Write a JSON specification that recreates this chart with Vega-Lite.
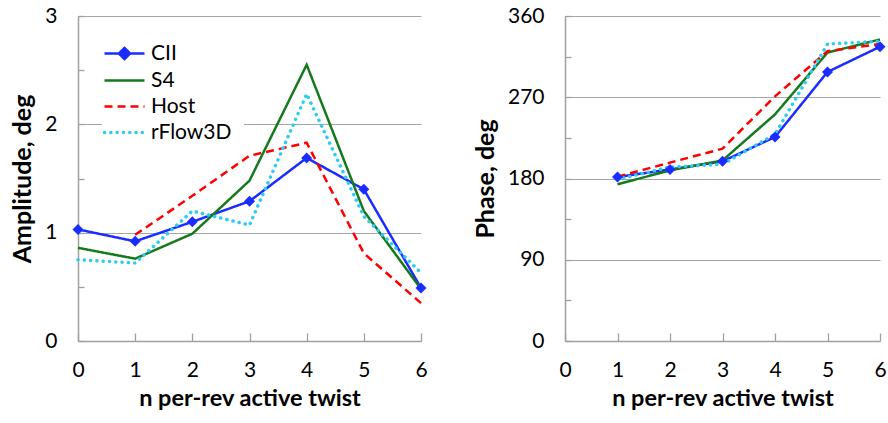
{
  "$schema": "https://vega.github.io/schema/vega-lite/v6.json",
  "background": "white",
  "padding": {"left": 10, "top": 5, "right": 0, "bottom": 0},
  "datasets": {
    "amp": [
      {"series": "CII", "n": 0, "value": 1.03},
      {"series": "CII", "n": 1, "value": 0.92},
      {"series": "CII", "n": 2, "value": 1.10},
      {"series": "CII", "n": 3, "value": 1.29},
      {"series": "CII", "n": 4, "value": 1.69},
      {"series": "CII", "n": 5, "value": 1.40},
      {"series": "CII", "n": 6, "value": 0.49},
      {"series": "S4", "n": 0, "value": 0.86},
      {"series": "S4", "n": 1, "value": 0.76},
      {"series": "S4", "n": 2, "value": 0.99},
      {"series": "S4", "n": 3, "value": 1.48},
      {"series": "S4", "n": 4, "value": 2.55},
      {"series": "S4", "n": 5, "value": 1.20},
      {"series": "S4", "n": 6, "value": 0.48},
      {"series": "Host", "n": 1, "value": 0.98},
      {"series": "Host", "n": 2, "value": 1.34},
      {"series": "Host", "n": 3, "value": 1.71},
      {"series": "Host", "n": 4, "value": 1.83},
      {"series": "Host", "n": 5, "value": 0.81},
      {"series": "Host", "n": 6, "value": 0.35},
      {"series": "rFlow3D", "n": 0, "value": 0.75},
      {"series": "rFlow3D", "n": 1, "value": 0.72},
      {"series": "rFlow3D", "n": 2, "value": 1.20},
      {"series": "rFlow3D", "n": 3, "value": 1.07},
      {"series": "rFlow3D", "n": 4, "value": 2.28},
      {"series": "rFlow3D", "n": 5, "value": 1.15},
      {"series": "rFlow3D", "n": 6, "value": 0.63}
    ],
    "phase": [
      {"series": "CII", "n": 1, "value": 181.7},
      {"series": "CII", "n": 2, "value": 190},
      {"series": "CII", "n": 3, "value": 199},
      {"series": "CII", "n": 4, "value": 226},
      {"series": "CII", "n": 5, "value": 298},
      {"series": "CII", "n": 6, "value": 326},
      {"series": "S4", "n": 1, "value": 173.6},
      {"series": "S4", "n": 2, "value": 189},
      {"series": "S4", "n": 3, "value": 200},
      {"series": "S4", "n": 4, "value": 251},
      {"series": "S4", "n": 5, "value": 319.5},
      {"series": "S4", "n": 6, "value": 334},
      {"series": "Host", "n": 1, "value": 182},
      {"series": "Host", "n": 2, "value": 197.6},
      {"series": "Host", "n": 3, "value": 213},
      {"series": "Host", "n": 4, "value": 271},
      {"series": "Host", "n": 5, "value": 321},
      {"series": "Host", "n": 6, "value": 329},
      {"series": "rFlow3D", "n": 1, "value": 179},
      {"series": "rFlow3D", "n": 2, "value": 192.7},
      {"series": "rFlow3D", "n": 3, "value": 195.7},
      {"series": "rFlow3D", "n": 4, "value": 229},
      {"series": "rFlow3D", "n": 5, "value": 329},
      {"series": "rFlow3D", "n": 6, "value": 332}
    ]
  },
  "config": {
    "view": {"stroke": null},
    "font": "Lato",
    "axis": {
      "labelFont": "Lato",
      "labelFontSize": 21,
      "labelColor": "black",
      "titleFont": "Lato",
      "titleFontSize": 24,
      "titleFontWeight": "bold",
      "titleColor": "black",
      "domainColor": "#a0a0a0",
      "domainWidth": 1.5,
      "gridColor": "#a6a6a6",
      "gridWidth": 1.2,
      "tickColor": "#a0a0a0",
      "tickWidth": 1.3
    }
  },
  "spacing": 45,
  "hconcat": [
    {
      "width": 343,
      "height": 325,
      "data": {"name": "amp"},
      "layer": [
        {
          "transform": [{"filter": "datum.series !== 'rFlow3D'"}],
          "mark": {"type": "line", "strokeWidth": 2.5},
          "encoding": {
            "x": {"field": "n", "type": "quantitative"},
            "y": {"field": "value", "type": "quantitative"}
          }
        },
        {
          "transform": [{"filter": "datum.series === 'rFlow3D'"}],
          "mark": {"type": "line", "strokeWidth": 3.5, "strokeCap": "round"},
          "encoding": {
            "x": {"field": "n", "type": "quantitative"},
            "y": {"field": "value", "type": "quantitative"}
          }
        },
        {
          "transform": [{"filter": "datum.series === 'CII'"}],
          "mark": {"type": "point", "shape": "diamond", "filled": true, "size": 120, "opacity": 1},
          "encoding": {
            "x": {"field": "n", "type": "quantitative"},
            "y": {"field": "value", "type": "quantitative"}
          }
        }
      ],
      "encoding": {
        "x": {
          "field": "n", "type": "quantitative",
          "title": "n per-rev active twist",
          "scale": {"domain": [0, 6], "nice": false, "zero": false},
          "axis": {"values": [0, 1, 2, 3, 4, 5, 6], "tickSize": -8, "labelPadding": 26, "titlePadding": 6, "titleFontSize": 23.5, "grid": false, "labelFlush": false}
        },
        "y": {
          "field": "value", "type": "quantitative",
          "title": "Amplitude, deg",
          "scale": {"domain": [0, 3], "nice": false},
          "axis": {
            "values": [0, 0.5, 1, 1.5, 2, 2.5, 3],
            "labelExpr": "datum.value % 1 === 0 ? format(datum.value, 'd') : ''",
            "tickSize": -6, "labelPadding": 27, "titlePadding": 9, "titleFontSize": 25,
            "grid": true,
            "gridOpacity": {"condition": {"test": "datum.value % 1 !== 0 || datum.value === 0", "value": 0}, "value": 1},
            "labelFlush": false
          }
        },
        "color": {
          "field": "series", "type": "nominal",
          "scale": {"domain": ["CII", "S4", "Host", "rFlow3D"], "range": ["#1a2cff", "#17791d", "#ff0000", "#2ecbf5"]},
          "legend": {
            "orient": "none", "legendX": 24, "legendY": 15, "title": null,
            "fillColor": "white", "padding": 12,
            "symbolType": "M-2.5,0H2.5", "symbolSize": 256, "symbolStrokeWidth": 2.5,
            "labelOffset": 16, "labelFont": "Lato", "labelFontSize": 21, "labelColor": "black",
            "rowPadding": 4,
            "encode": {
              "symbols": {
                "update": {
                  "shape": {"signal": "datum.value === 'CII' ? 'M-2.5,0H2.5M0,-0.7L0.7,0L0,0.7L-0.7,0Z' : 'M-2.5,0H2.5'"},
                  "fill": {"signal": "datum.value === 'CII' ? '#1a2cff' : 'transparent'"},
                  "strokeCap": {"signal": "datum.value === 'rFlow3D' ? 'round' : 'butt'"},
                  "strokeWidth": {"signal": "datum.value === 'rFlow3D' ? 3.5 : 2.5"}
                }
              }
            }
          }
        },
        "strokeDash": {
          "field": "series", "type": "nominal",
          "scale": {"domain": ["CII", "S4", "Host", "rFlow3D"], "range": [[1, 0], [1, 0], [8, 5], [0.1, 6.2]]}
        }
      }
    },
    {
      "width": 315,
      "height": 325,
      "data": {"name": "phase"},
      "layer": [
        {
          "transform": [{"filter": "datum.series !== 'rFlow3D'"}],
          "mark": {"type": "line", "strokeWidth": 2.5},
          "encoding": {
            "x": {"field": "n", "type": "quantitative"},
            "y": {"field": "value", "type": "quantitative"}
          }
        },
        {
          "transform": [{"filter": "datum.series === 'rFlow3D'"}],
          "mark": {"type": "line", "strokeWidth": 3.5, "strokeCap": "round"},
          "encoding": {
            "x": {"field": "n", "type": "quantitative"},
            "y": {"field": "value", "type": "quantitative"}
          }
        },
        {
          "transform": [{"filter": "datum.series === 'CII'"}],
          "mark": {"type": "point", "shape": "diamond", "filled": true, "size": 120, "opacity": 1},
          "encoding": {
            "x": {"field": "n", "type": "quantitative"},
            "y": {"field": "value", "type": "quantitative"}
          }
        }
      ],
      "encoding": {
        "x": {
          "field": "n", "type": "quantitative",
          "title": "n per-rev active twist",
          "scale": {"domain": [0, 6], "nice": false, "zero": false},
          "axis": {"values": [0, 1, 2, 3, 4, 5, 6], "tickSize": -8, "labelPadding": 26, "titlePadding": 6, "titleFontSize": 23.5, "grid": false, "labelFlush": false}
        },
        "y": {
          "field": "value", "type": "quantitative",
          "title": "Phase, deg",
          "scale": {"domain": [0, 360], "nice": false},
          "axis": {
            "values": [0, 45, 90, 135, 180, 225, 270, 315, 360],
            "labelExpr": "datum.value % 90 === 0 ? datum.label : ''",
            "tickSize": -6, "labelPadding": 27, "titlePadding": 9, "titleFontSize": 25,
            "grid": true,
            "gridOpacity": {"condition": {"test": "datum.value % 90 !== 0 || datum.value === 0", "value": 0}, "value": 1},
            "labelFlush": false
          }
        },
        "color": {
          "field": "series", "type": "nominal",
          "scale": {"domain": ["CII", "S4", "Host", "rFlow3D"], "range": ["#1a2cff", "#17791d", "#ff0000", "#2ecbf5"]},
          "legend": null
        },
        "strokeDash": {
          "field": "series", "type": "nominal",
          "scale": {"domain": ["CII", "S4", "Host", "rFlow3D"], "range": [[1, 0], [1, 0], [8, 5], [0.1, 6.2]]},
          "legend": null
        }
      }
    }
  ],
  "resolve": {"scale": {"color": "independent", "strokeDash": "independent"}}
}
